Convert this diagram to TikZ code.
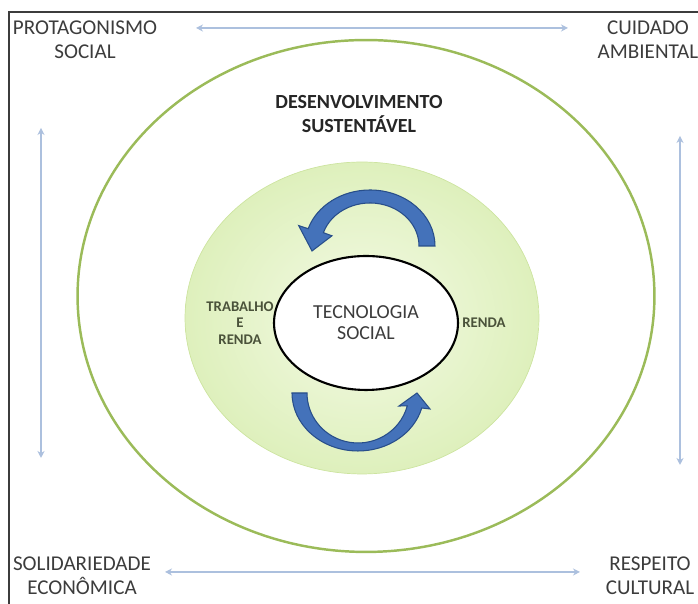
\documentclass[tikz,border=0pt]{standalone}
\usepackage{fontspec}
\setmainfont{Carlito}
\usetikzlibrary{positioning,arrows.meta,shapes.geometric}
\definecolor{framegray}{RGB}{60,60,60}
\definecolor{textgray}{RGB}{60,60,60}
\definecolor{sidegray}{RGB}{74,82,58}
\definecolor{ringgreen}{RGB}{155,187,89}
\definecolor{fieldlight}{RGB}{244,250,230}
\definecolor{fielddark}{RGB}{222,240,188}
\definecolor{fieldedge}{RGB}{205,228,160}
\definecolor{linkblue}{RGB}{172,192,222}
\definecolor{turnblue}{RGB}{68,114,186}
\definecolor{turnedge}{RGB}{40,78,138}
\tikzset{
    on grid,
    auto,
    corner/.style = {
        align=center,
        text=textgray,
        font=\fontsize{12}{13.6}\selectfont
    },
    heading/.style = {
        align=center,
        text=black!85,
        font=\fontsize{11.4}{14}\selectfont\bfseries
    },
    side/.style = {
        align=center,
        text=sidegray,
        font=\fontsize{8.4}{9.4}\selectfont\bfseries
    },
    core/.style = {
        draw=black,
        fill=white,
        shape=ellipse,
        line width=1.2pt,
        minimum width=3.68cm,
        minimum height=2.68cm,
        inner sep=0pt,
        align=center,
        text=textgray,
        font=\fontsize{11.3}{11.9}\selectfont
    },
    field/.style = {
        draw=fieldedge,
        shape=ellipse,
        inner color=fieldlight,
        outer color=fielddark,
        minimum width=7.08cm,
        minimum height=6.24cm
    },
    ring/.style = {
        draw=ringgreen,
        shape=ellipse,
        line width=1.4pt,
        minimum width=11.54cm,
        minimum height=10.24cm
    },
    link/.style = {
        draw=linkblue,
        line width=0.8pt,
        {Stealth[length=4pt,width=4pt]}-{Stealth[length=4pt,width=4pt]}
    },
    turn/.style = {
        fill=turnblue,
        draw=turnedge,
        line width=0.6pt
    },
}

\begin{document}
\begin{tikzpicture}[x=0.02cm, y=0.02cm]
        \useasboundingbox (0,0) rectangle (698,604);
        \path[draw, framegray, line width=1.4pt] (9,-5) |- (705,592);

        \node[corner] (prot) at (85,564) {PROTAGONISMO\\SOCIAL};
        \node[corner] (cuid) at (648,564) {CUIDADO\\AMBIENTAL};
        \node[corner] (soli) at (82,28) {SOLIDARIEDADE\\ECONÔMICA};
        \node[corner] (resp) at (650,28) {RESPEITO\\CULTURAL};

        \node[ring] (desenv) at (366,308) {};
        \node[field] (area) at (362,286) {};
        \node[core] (tecno) at (366,281) {TECNOLOGIA\\SOCIAL};

        \node[heading] (titulo) at (359,490) {DESENVOLVIMENTO\\SUSTENTÁVEL};
        \node[side, left=2.52cm of tecno] (trab) {TRABALHO\\E\\RENDA};
        \node[side, right=2.36cm of tecno] (renda) {RENDA};

        \coordinate (topw) at (196,576);
        \coordinate (tope) at (568,576);
        \coordinate (botw) at (165,32);
        \coordinate (bote) at (580,32);
        \coordinate (leftn) at (41,476);
        \coordinate (lefts) at (41,146);
        \coordinate (rightn) at (680,468);
        \coordinate (rights) at (680,139);

        \path[link] (topw) -- (tope);
        \path[link] (botw) -- (bote);
        \path[link] (leftn) -- (lefts);
        \path[link] (rightn) -- (rights);

        % cycle arrows round the core
        \begin{scope}[shift={(370,358)}]
            \path[turn] (0:65 and 56) arc[start angle=0, end angle=162, x radius=65, y radius=56]
                -- (162:75 and 66) -- (-58,-5) -- (162:40 and 33)
                -- (162:49 and 43) arc[start angle=162, end angle=0, x radius=49, y radius=43] -- cycle;
        \end{scope}
        \begin{scope}[shift={(358,211)}]
            \path[turn] (180:66 and 58) arc[start angle=180, end angle=345, x radius=66, y radius=58]
                -- (72,-16) -- (59,0) -- (41,-13)
                -- (345:51 and 50) arc[start angle=345, end angle=180, x radius=51, y radius=50] -- cycle;
        \end{scope}
    \end{tikzpicture}
\end{document}
